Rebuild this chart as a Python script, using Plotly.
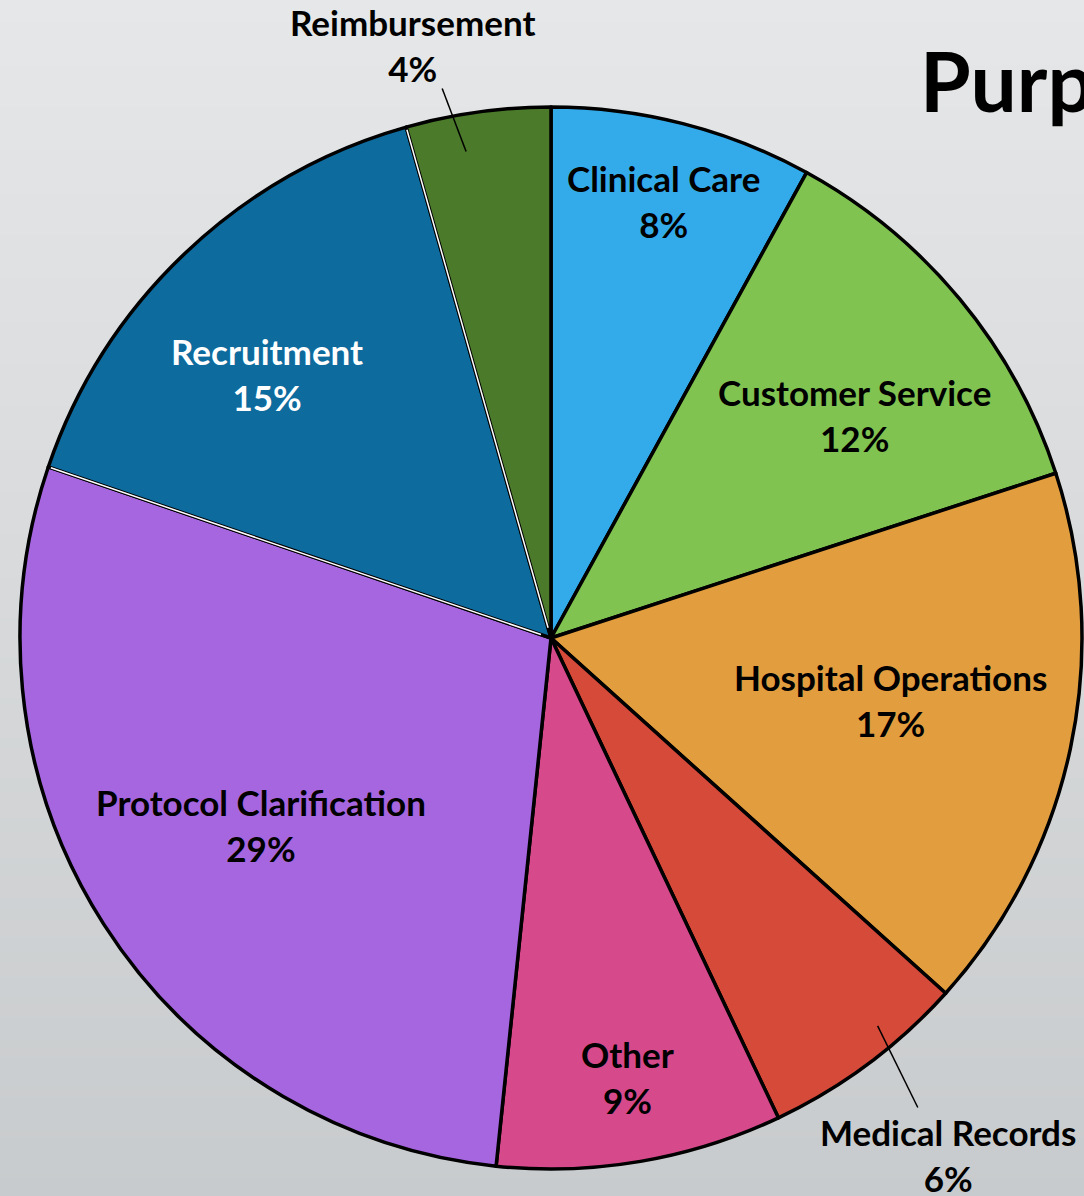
import math
import plotly.graph_objects as go

# slice data, clockwise from 12 o'clock (percent of calls)
labels = [
    "Clinical Care",
    "Customer Service",
    "Hospital Operations",
    "Medical Records",
    "Other",
    "Protocol Clarification",
    "Recruitment",
    "Reimbursement",
]
shares = [8.0, 12.0, 16.7, 6.3, 8.7, 28.6, 15.4, 4.4]
colors = ["#33abeb", "#80c351", "#e29d3f", "#d64a3a", "#d6498b", "#a566e0", "#0e6b9e", "#4a7a2a"]
text_colors = ["black", "black", "black", "black", "black", "black", "white", "black"]

# label placement relative to each slice's middle angle
label_r = [0.85, 0.71, 0.65, 1.228, 0.84, 0.65, 0.73, 1.147]
label_shift = [0, 3.3, -1.6, -0.8, -0.2, -0.1, -3.5, -5.2]

W, H = 1084, 1196
cx, cy, R = 551, 638, 531


def to_paper(angle_deg, frac):
    a = math.radians(angle_deg)
    px = cx + frac * R * math.sin(a)
    py = cy - frac * R * math.cos(a)
    return px / W, 1 - py / H


fig = go.Figure()

# gray gradient background
fig.add_trace(
    go.Heatmap(
        z=[[0, 0], [1, 1]],
        x=[0, 1],
        y=[0, 1],
        colorscale=[[0, "#c8cbcd"], [1, "#e6e7e8"]],
        zsmooth="best",
        showscale=False,
        hoverinfo="skip",
    )
)

fig.add_trace(
    go.Pie(
        labels=labels,
        values=shares,
        sort=False,
        direction="clockwise",
        rotation=0,
        textinfo="none",
        marker=dict(colors=colors, line=dict(color="black", width=3.5)),
        domain=dict(x=[(cx - R) / W, (cx + R) / W], y=[(H - cy - R) / H, (H - cy + R) / H]),
        showlegend=False,
    )
)

total = sum(shares)
start = 0
edges = []
for i, (name, v) in enumerate(zip(labels, shares)):
    span = v / total * 360
    mid = start + span / 2
    edges.append((start, start + span))
    start += span
    x, y = to_paper(mid + label_shift[i], label_r[i])
    fig.add_annotation(
        x=x,
        y=y,
        xref="paper",
        yref="paper",
        text=f"{name}<br>{round(v / total * 100)}%",
        showarrow=False,
        xanchor="center",
        yanchor="middle",
        font=dict(family="Lato", size=35, color=text_colors[i], weight=700),
    )

# thin white highlight on the Recruitment slice edges
for ang in edges[labels.index("Recruitment")]:
    x0, y0 = to_paper(ang, 0.02)
    x1, y1 = to_paper(ang, 0.995)
    fig.add_shape(type="line", xref="paper", yref="paper", x0=x0, y0=y0, x1=x1, y1=y1,
                  line=dict(color="white", width=1.5))

# leader lines for the two outside labels
leaders = [((139.9, 0.955), (142.0, 1.122)), ((350.1, 0.93), (348.8, 1.055))]
for (a0, f0), (a1, f1) in leaders:
    x0, y0 = to_paper(a0, f0)
    x1, y1 = to_paper(a1, f1)
    fig.add_shape(type="line", xref="paper", yref="paper", x0=x0, y0=y0, x1=x1, y1=y1,
                  line=dict(color="black", width=1.5))

fig.add_annotation(
    x=918 / W,
    y=1 - 80 / H,
    xref="paper",
    yref="paper",
    text="Purpose of Calls",
    showarrow=False,
    xanchor="left",
    yanchor="middle",
    font=dict(family="Lato", size=82, color="black", weight=700),
)

fig.update_xaxes(visible=False, range=[0, 1], domain=[0, 1], fixedrange=True)
fig.update_yaxes(visible=False, range=[0, 1], domain=[0, 1], fixedrange=True)
fig.update_layout(
    width=W,
    height=H,
    margin=dict(l=0, r=0, t=0, b=0),
    paper_bgcolor="#d8dadb",
    plot_bgcolor="#d8dadb",
)

fig.write_html(
    "out.html",
    config={"displayModeBar": False},
    post_script="document.body.style.margin='0';document.body.style.overflow='hidden';",
)
